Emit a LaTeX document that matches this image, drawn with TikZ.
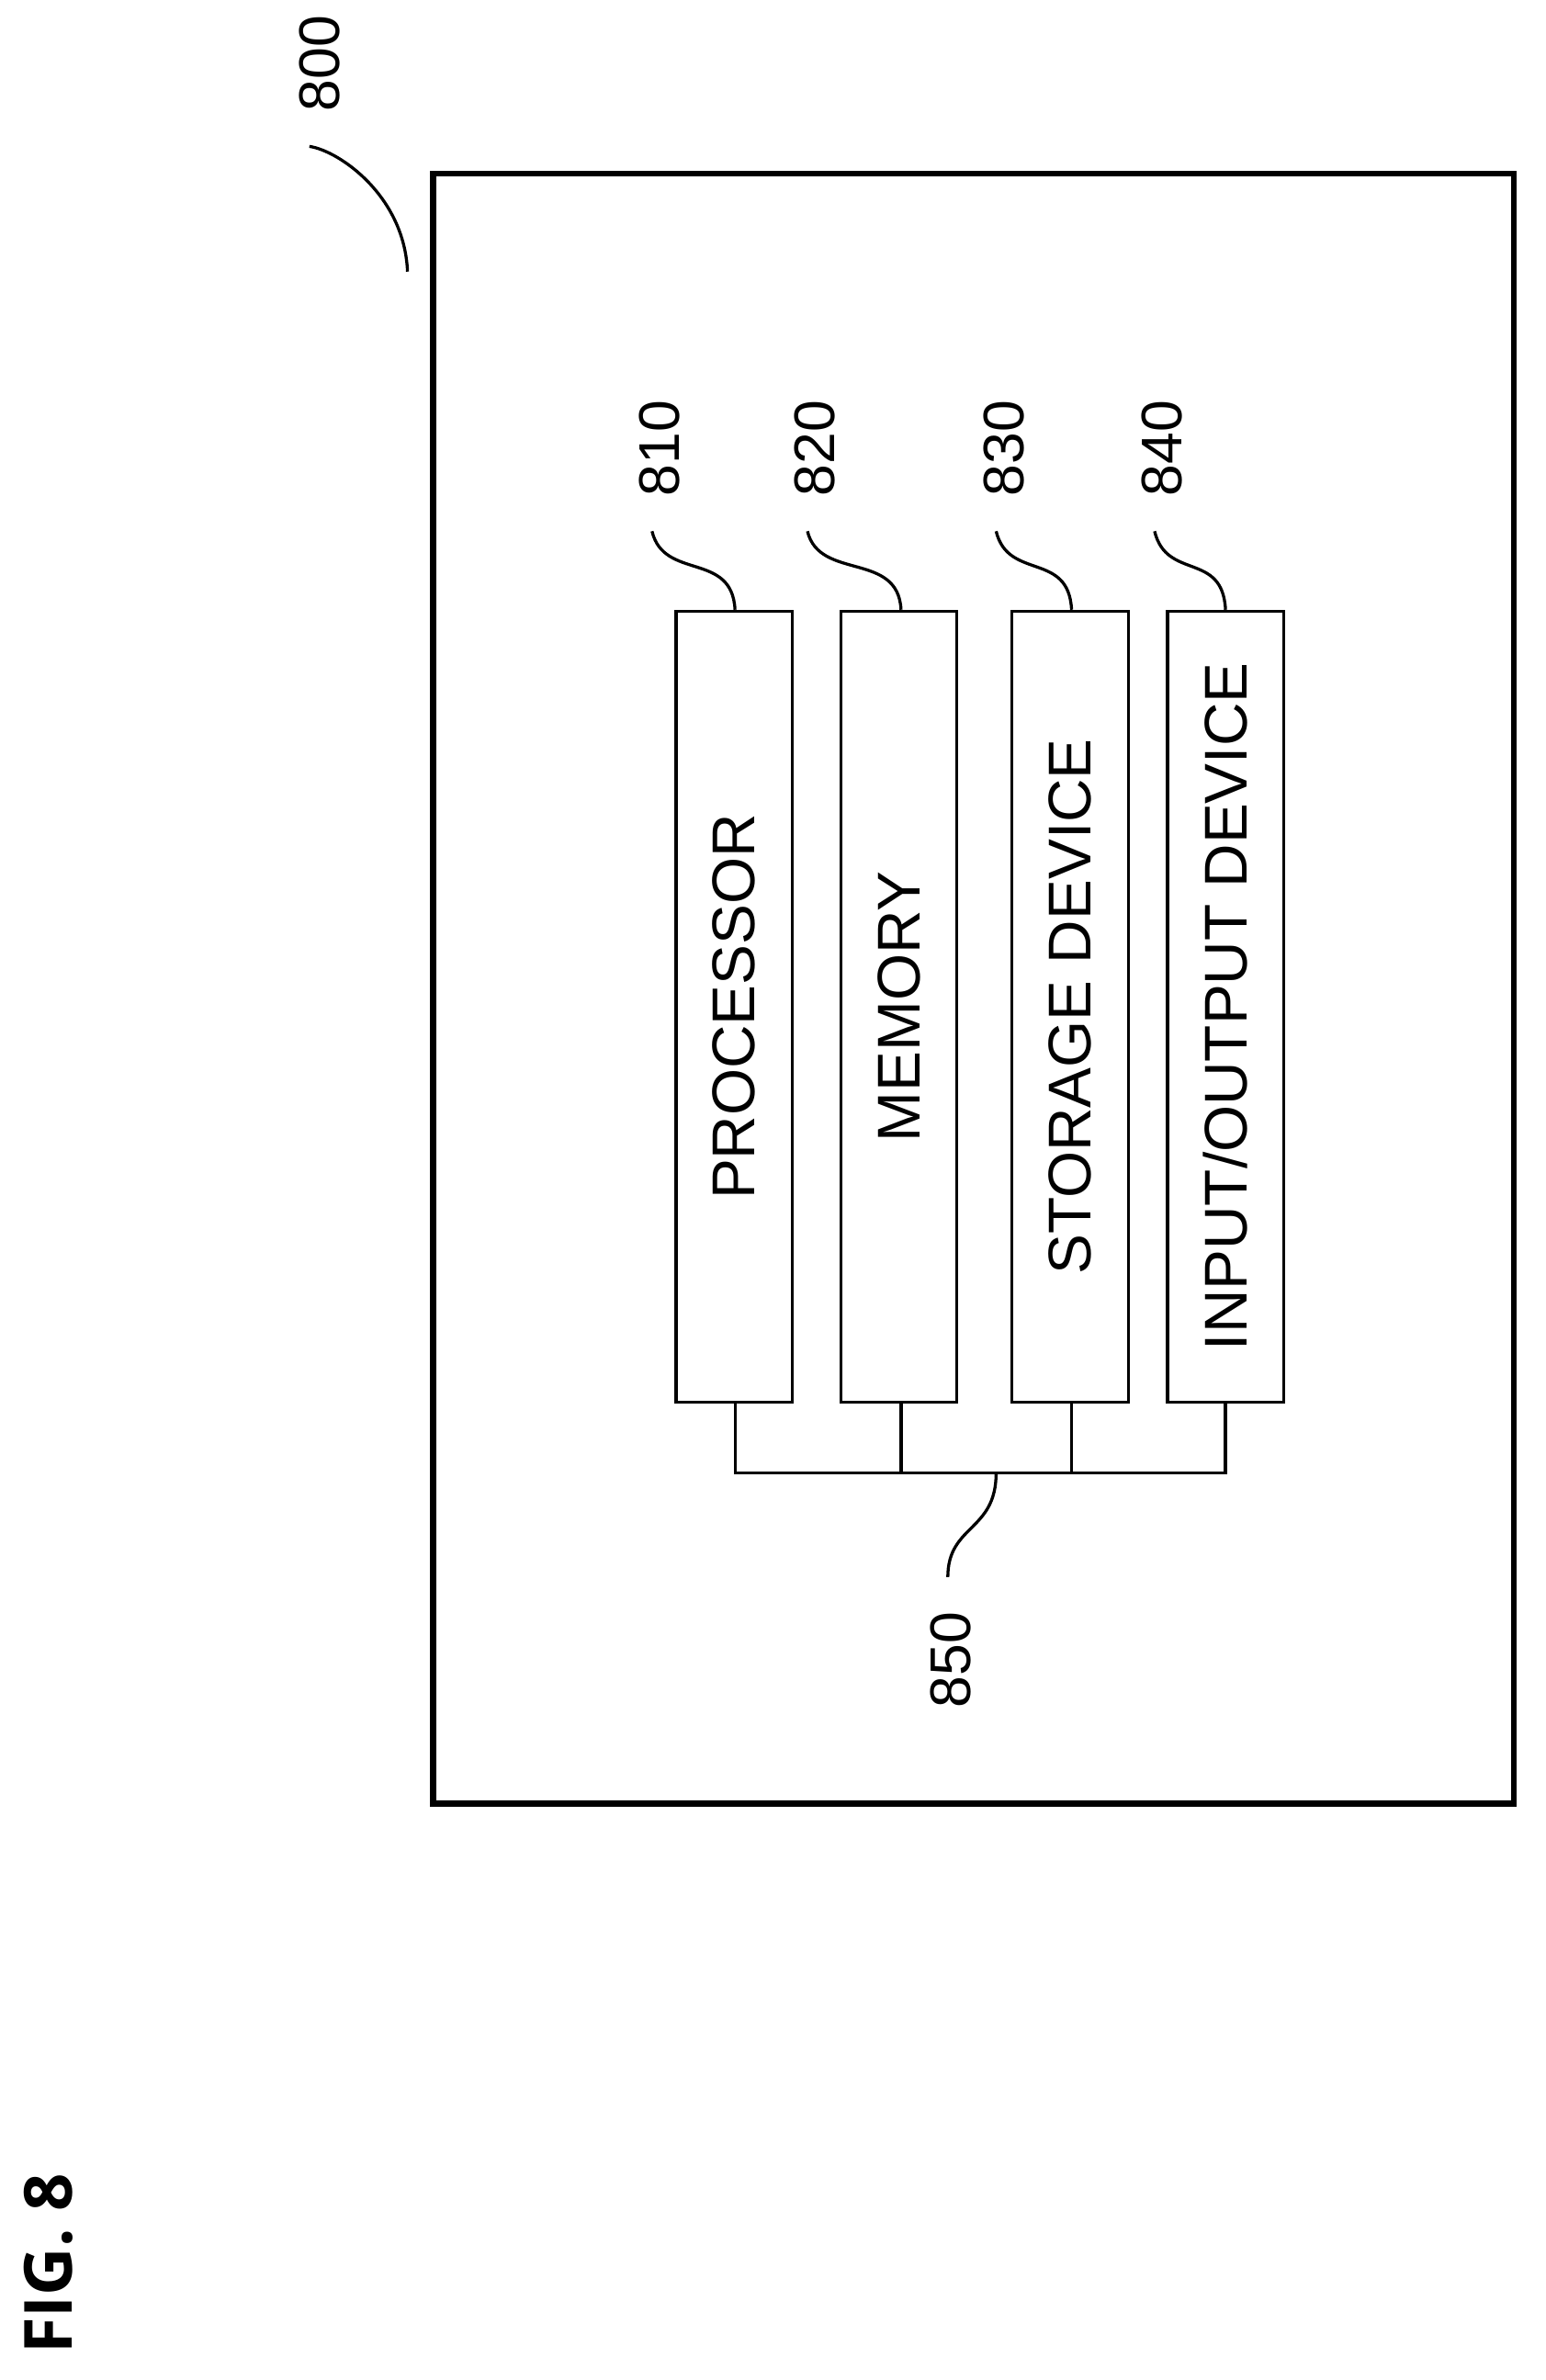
\documentclass[tikz,border=0pt]{standalone}
\usepackage{fontspec}
\setmainfont{Liberation Sans}
\newfontfamily\figfont{Open Sans}
\usetikzlibrary{positioning}

\tikzset{
  unit/.style = {draw, line width=1pt, minimum width=38.5pt, minimum height=262pt, inner sep=0pt, font=\fontsize{20}{24}\selectfont},
  ref/.style = {font=\fontsize{19}{22}\selectfont, rotate=90},
  lead/.style = {line width=1pt}
}

\begin{document}
\begin{tikzpicture}[x=0.5pt, y=-0.5pt]
    \useasboundingbox (0,0) rectangle (1024,1577);
    % outer frame
    \draw [line width=2pt] (287,115) rectangle (1003,1195);
    \node [ref] (n800) at (212,42) {800};
    \draw [lead] (205,97) .. controls (225,100) and (268,130) .. (270,180);

    % units
    \node [unit] (proc) at (486.5,667) {\rotatebox{90}{PROCESSOR}};
    \node [unit] (mem) at (595.5,667) {\rotatebox{90}{MEMORY}};
    \node [unit] (stor) at (709,667) {\rotatebox{90}{STORAGE DEVICE}};
    \node [unit] (io) at (812,667) {\rotatebox{90}{INPUT/OUTPUT DEVICE}};

    \node [ref] (n810) at (437,297) {810};
    \node [ref] (n820) at (540,297) {820};
    \node [ref] (n830) at (665,297) {830};
    \node [ref] (n840) at (770,297) {840};
    \draw [lead] (432,352) .. controls (440,385) and (485,365) .. (proc.north -| 487,0);
    \draw [lead] (535,352) .. controls (543,385) and (595,365) .. (mem.north -| 597,0);
    \draw [lead] (660,352) .. controls (668,385) and (708,365) .. (stor.north -| 710,0);
    \draw [lead] (765,352) .. controls (773,385) and (810,365) .. (io.north -| 812,0);

    % bus
    \coordinate (bus) at (660,976);
    \draw [lead] (proc.south -| 487,0) |- (bus) -| (io.south -| 812,0);
    \draw [lead] (mem.south -| 597,0) -- (597,976);
    \draw [lead] (stor.south -| 710,0) -- (710,976);
    \node [ref] (n850) at (630,1100) {850};
    \draw [lead] (bus) .. controls (660,1015) and (628,1010) .. (628,1045);

    \node [font=\figfont\bfseries\fontsize{22}{26}\selectfont, rotate=90] (fig) at (32,1500) {FIG. 8};
\end{tikzpicture}
\end{document}
